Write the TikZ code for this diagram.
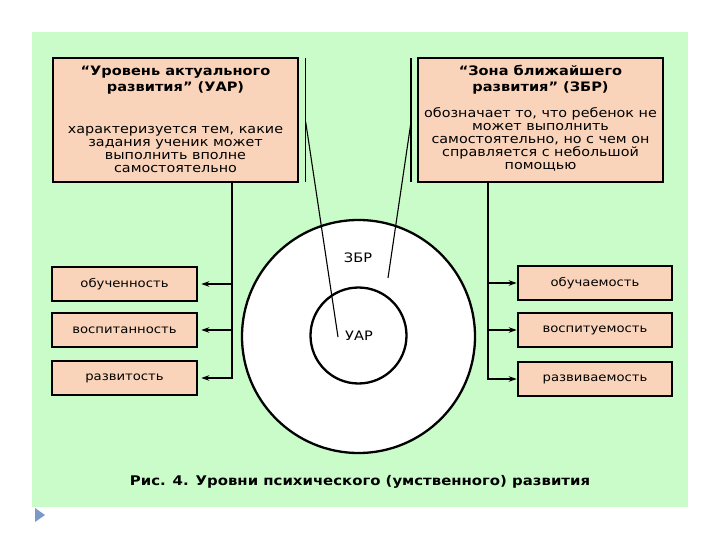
\documentclass[tikz,border=0pt]{standalone}
\usepackage{fontspec}
\setmainfont[FakeStretch=1.12]{DejaVu Sans}
\usetikzlibrary{arrows.meta}
\definecolor{bggreen}{RGB}{202,252,202}
\definecolor{peach}{RGB}{250,212,186}
\definecolor{tri}{RGB}{122,152,200}
\tikzset{
  px/.style={x=1pt,y=-1pt},
  bigbox/.style={draw=black,line width=2.6pt,fill=peach,minimum width=245pt,minimum height=124pt,inner sep=0pt},
  smallbox/.style={draw=black,line width=2.6pt,fill=peach,minimum width=145pt,minimum height=34pt,inner sep=0pt,font=\fontsize{11.8}{13}\selectfont},
  titletext/.style={align=center,inner sep=0pt,font=\fontsize{13}{16}\selectfont\bfseries},
  bodytext/.style={align=center,inner sep=0pt,font=\fontsize{12.8}{13.2}\selectfont},
  conn/.style={line width=1.6pt},
  thin/.style={line width=1.1pt},
  arr/.style={line width=1.6pt,-{Stealth[length=8pt,width=5.5pt]}},
  ring/.style={circle,draw=black,line width=2.3pt,fill=white,inner sep=0pt},
  lab/.style={inner sep=0pt,font=\fontsize{13}{15}\selectfont}
}
\begin{document}
\begin{tikzpicture}[px]
\useasboundingbox (0,0) rectangle (720,540);
\fill[white] (0,0) rectangle (720,540);
\fill[bggreen] (32,32) rectangle (688,507);
\fill[tri] (35,508) -- (45,515) -- (35,522) -- cycle;

% top boxes
\node[bigbox] (uarbox) at (175.5,120) {};
\node[titletext] (uart) at (175.5,80) {“Уровень актуального\\развития” (УАР)};
\node[bodytext] (uarb) at (175.5,149.5) {характеризуется тем, какие\\задания ученик может\\выполнить вполне\\самостоятельно};

\node[bigbox] (zbrbox) at (540.5,120) {};
\node[titletext] (zbrt) at (540.5,79.5) {“Зона ближайшего\\развития” (ЗБР)};
\node[bodytext] (zbrb) at (540.5,139.5) {обозначает то, что ребенок не\\может выполнить\\самостоятельно, но с чем он\\справляется с небольшой\\помощью};

% circles
\node[ring,minimum size=233pt] (outer) at (358.5,336.5) {};
\node[ring,minimum size=96pt] (inner) at (358.5,335.5) {};
\node[lab] (zbrl) at (358,258) {ЗБР};
\node[lab] (uarl) at (359,336) {УАР};

% thin vertical lines beside top boxes
\coordinate (lvt) at (305.7,58);
\coordinate (lvb) at (305.7,182);
\coordinate (lvs) at (305.7,122);
\coordinate (rvt) at (411,58);
\coordinate (rvb) at (411,182);
\coordinate (rvs) at (411,122);
\coordinate (uarend) at (338,337);
\coordinate (zbrend) at (388,278);
\draw[thin] (lvt) -- (lvb);
\draw[thin] (rvt) -- (rvb);
\draw[thin] (lvs) -- (uarend);
\draw[thin] (rvs) -- (zbrend);

% left boxes
\node[smallbox] (l1) at (124.5,284) {обученность};
\node[smallbox] (l2) at (124.5,330) {воспитанность};
\node[smallbox] (l3) at (124.5,378) {развитость};
\coordinate (lj) at (232,379);
\draw[conn] (uarbox.south -| lj) -- (lj);
\draw[arr] (l1.east -| lj) -- ([xshift=3pt]l1.east);
\draw[arr] (l2.east -| lj) -- ([xshift=3pt]l2.east);
\draw[arr] (l3.east -| lj) -- ([xshift=3pt]l3.east);

% right boxes
\node[smallbox,minimum width=154pt] (r1) at (595,283) {обучаемость};
\node[smallbox,minimum width=154pt] (r2) at (595,330) {воспитуемость};
\node[smallbox,minimum width=154pt] (r3) at (595,379) {развиваемость};
\coordinate (rj) at (488,380);
\draw[conn] (zbrbox.south -| rj) -- (rj);
\draw[arr] (r1.west -| rj) -- (r1.west);
\draw[arr] (r2.west -| rj) -- (r2.west);
\draw[arr] (r3.west -| rj) -- (r3.west);

% caption
\node[inner sep=0pt,font=\fontsize{13.3}{16}\selectfont\bfseries] (cap) at (360,482) {Рис. 4. Уровни психического (умственного) развития};
\end{tikzpicture}
\end{document}
